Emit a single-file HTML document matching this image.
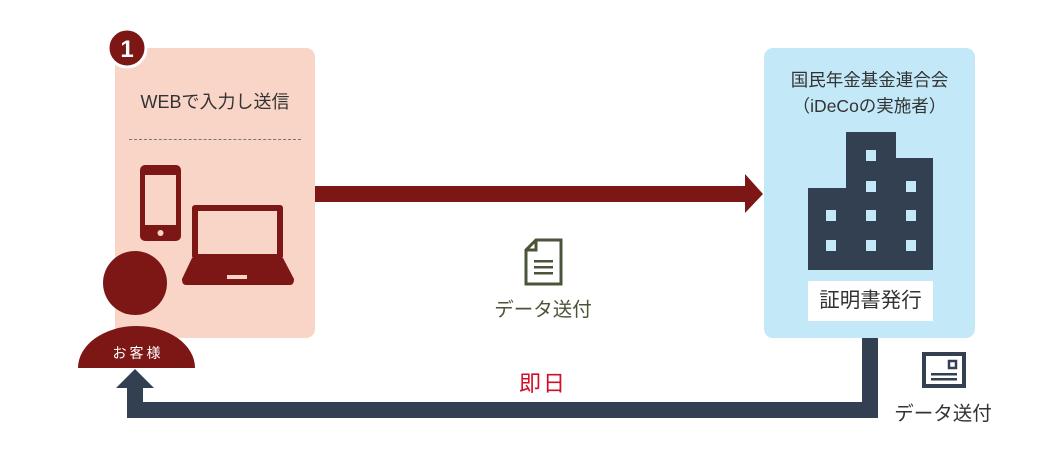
<!DOCTYPE html>
<html><head><meta charset="utf-8"><style>
body{margin:0;width:1062px;height:450px;background:#fff;position:relative;overflow:hidden;font-family:"Liberation Sans","Noto Sans CJK JP",sans-serif}
.a{position:absolute}
</style></head><body>
<div class="a" style="left:115px;top:48px;width:200px;height:290px;background:#f9d5c8;border-radius:9px"></div>
<div class="a" style="left:764px;top:48px;width:211px;height:290px;background:#c3e9f9;border-radius:9px"></div>
<div class="a" style="left:115px;top:88px;width:200px;text-align:center;font-size:18px;color:#333">WEBで入力し送信</div>
<div class="a" style="left:129px;top:139px;width:172px;border-top:1px dashed #777"></div>
<div class="a" style="left:754px;top:67px;width:231px;text-align:center;font-size:17.5px;line-height:26px;color:#333">国民年金基金連合会<br>（iDeCoの実施者）</div>
<div class="a" style="left:808px;top:281px;width:125px;height:40px;background:#fff;text-align:center;line-height:40px;font-size:20.5px;color:#333">証明書発行</div>
<div class="a" style="left:470px;top:293px;width:146px;text-align:center;font-size:19.5px;color:#4a5438">データ送付</div>
<div class="a" style="left:870px;top:397px;width:146px;text-align:center;font-size:19.5px;color:#333">データ送付</div>
<div class="a" style="left:480px;top:366px;width:126px;text-align:center;font-size:22px;color:#d0102a;letter-spacing:2px">即日</div>
<svg class="a" style="left:0;top:0" width="1062" height="450">
<circle cx="127" cy="48" r="19" fill="#7d1716" stroke="#fff" stroke-width="3"/>
<text x="127" y="57" text-anchor="middle" font-size="24" font-weight="bold" fill="#fff" font-family="Liberation Sans">1</text>
<rect x="140" y="165" width="41" height="76" rx="5" fill="#7d1716"/>
<rect x="145" y="175" width="31" height="50" fill="#f9d5c8"/>
<circle cx="160.5" cy="233" r="3" fill="#f9d5c8"/>
<rect x="192" y="205" width="91" height="54" rx="3" fill="#7d1716"/>
<rect x="198" y="211" width="79" height="43" fill="#f9d5c8"/>
<path d="M192 258 L283 258 L294 279 Q294 285 290 285 L186 285 Q182 285 182 279 Z" fill="#7d1716"/>
<rect x="227" y="275" width="20" height="4" fill="#f9d5c8"/>
<circle cx="135" cy="283" r="32" fill="#7d1716"/>
<path d="M78 368 A58.5 42 0 0 1 195 368 Z" fill="#7d1716"/>
<text x="138" y="358" text-anchor="middle" font-size="14" fill="#fff" letter-spacing="3" font-family="Liberation Sans,Noto Sans CJK JP,sans-serif">お客様</text>
<rect x="315" y="186" width="432" height="16" fill="#7d1716"/>
<path d="M745 174 L763 194 L745 213 Z" fill="#7d1716"/>
<g fill="#334052">
<rect x="808" y="188" width="40" height="82"/>
<rect x="846" y="132" width="50" height="138"/>
<rect x="894" y="158" width="39" height="112"/>
</g>
<g fill="#c3e9f9">
<rect x="866" y="150" width="10" height="11"/>
<rect x="866" y="181" width="10" height="11"/><rect x="906" y="181" width="10" height="11"/>
<rect x="826" y="210" width="10" height="11"/><rect x="866" y="210" width="10" height="11"/><rect x="906" y="210" width="10" height="11"/>
<rect x="826" y="240" width="10" height="11"/><rect x="866" y="240" width="10" height="11"/><rect x="906" y="240" width="10" height="11"/>
</g>
<path d="M870 338 V410 H135 V386" fill="none" stroke="#334052" stroke-width="16"/>
<path d="M116 388 L135 369 L154 388 Z" fill="#334052"/>
<rect x="924" y="354" width="40" height="32" fill="none" stroke="#334052" stroke-width="4"/>
<rect x="949" y="361" width="7" height="7" fill="none" stroke="#334052" stroke-width="2.5"/>
<rect x="931" y="373" width="26" height="2.5" fill="#334052"/>
<rect x="931" y="378" width="26" height="2.5" fill="#334052"/>
<path d="M536 240 L561 240 L561 284 L526 284 L526 250 Z M526 250 L536 250 L536 240" fill="none" stroke="#4a5438" stroke-width="3"/>
<rect x="534" y="260" width="19" height="2.5" fill="#4a5438"/>
<rect x="534" y="266" width="19" height="2.5" fill="#4a5438"/>
<rect x="534" y="272" width="19" height="2.5" fill="#4a5438"/>
</svg>
</body></html>
